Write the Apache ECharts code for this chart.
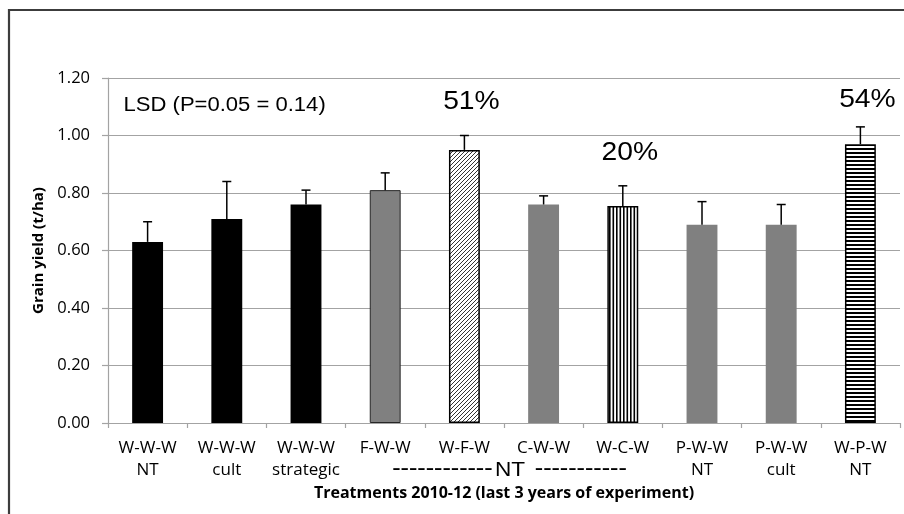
<!DOCTYPE html>
<html>
<head>
<meta charset="utf-8">
<title>Grain yield by treatment</title>
<script src="https://cdn.jsdelivr.net/npm/echarts@6/dist/echarts.min.js"></script>
<style>
  html, body { margin: 0; padding: 0; background: #ffffff; }
  #chart { width: 904px; height: 514px; }
</style>
</head>
<body>
<div id="chart"></div>
<script>
// ---- data ----
const categories = ['W-W-W\nNT', 'W-W-W\ncult', 'W-W-W\nstrategic', 'F-W-W', 'W-F-W',
                    'C-W-W', 'W-C-W', 'P-W-W\nNT', 'P-W-W\ncult', 'W-P-W\nNT'];
const yieldMean = [0.63, 0.71, 0.76, 0.81, 0.95, 0.76, 0.755, 0.69, 0.69, 0.97];
const yieldErr  = [0.07, 0.13, 0.05, 0.06, 0.05, 0.03, 0.07, 0.08, 0.07, 0.06];
const yTicks = [0, 0.2, 0.4, 0.6, 0.8, 1.0, 1.2];
const gainText = ['51%', '20%', '54%'];
const gainIndex = [4, 6, 9];
const lsdText = 'LSD (P=0.05 = 0.14)';
const groupText = 'NT';
const xTitle = 'Treatments 2010-12 (last 3 years of experiment)';
const yTitle = 'Grain yield (t/ha)';

// ---- fill patterns ----
function tile(w, h, draw) {
  const c = document.createElement('canvas');
  c.width = w; c.height = h;
  const g = c.getContext('2d');
  g.fillStyle = '#ffffff';
  g.fillRect(0, 0, w, h);
  draw(g, w, h);
  return { image: c, repeat: 'repeat' };
}
const diagonal = tile(4, 4, (g) => {
  g.strokeStyle = '#333333';
  g.lineWidth = 1;
  g.beginPath();
  g.moveTo(-1, 5); g.lineTo(5, -1);
  g.moveTo(-1, 1); g.lineTo(1, -1);
  g.moveTo(3, 5); g.lineTo(5, 3);
  g.stroke();
});
const vertical = tile(7, 4, (g) => {
  g.fillStyle = '#000000';
  g.fillRect(0, 0, 1.6, 4);
  g.fillRect(3.5, 0, 1.6, 4);
});
const horizontal = tile(4, 4, (g) => {
  g.fillStyle = '#000000';
  g.fillRect(0, 0, 4, 2);
});

const black = { color: '#000000' };
const grey = { color: '#808080' };
const greyEdged = { color: '#808080', borderColor: '#262626', borderWidth: 1 };
const outlined = (fill) => ({ color: fill, borderColor: '#000000', borderWidth: 1.5 });
const barStyles = [black, black, black, greyEdged, outlined(diagonal),
                   grey, outlined(vertical), grey, grey, outlined(horizontal)];

const gridColor = '#a3a3a3';
const labelFont = '"Open Sans", "Liberation Sans", sans-serif';
const textFont = '"Liberation Sans", Arial, sans-serif';

const chart = echarts.init(document.getElementById('chart'), null, { renderer: 'canvas' });

chart.setOption({
  animation: false,
  backgroundColor: '#ffffff',
  grid: { left: 108, right: 4, top: 78, bottom: 91, containLabel: false },
  xAxis: {
    type: 'category',
    data: categories,
    name: xTitle,
    nameLocation: 'middle',
    nameGap: 55,
    nameTextStyle: { fontFamily: labelFont, fontWeight: 'bold', fontSize: 16, color: '#000' },
    axisLine: { lineStyle: { color: gridColor, width: 1.2 } },
    axisTick: { show: true, length: 5, lineStyle: { color: gridColor, width: 1.2 } },
    axisLabel: { fontFamily: labelFont, fontSize: 17, color: '#000', lineHeight: 22, margin: 14, interval: 0 },
    splitLine: { show: false }
  },
  yAxis: {
    type: 'value',
    min: yTicks[0],
    max: yTicks[yTicks.length - 1],
    interval: yTicks[1] - yTicks[0],
    name: yTitle,
    nameLocation: 'middle',
    nameGap: 60,
    nameRotate: 90,
    nameTextStyle: { fontFamily: labelFont, fontWeight: 'bold', fontSize: 15, color: '#000' },
    axisLine: { show: true, lineStyle: { color: gridColor, width: 1.2 } },
    axisTick: { show: true, length: 6, lineStyle: { color: gridColor, width: 1.2 } },
    axisLabel: { fontFamily: labelFont, fontSize: 16.5, color: '#000', margin: 18,
                 formatter: (v) => v.toFixed(2) },
    splitLine: { show: true, lineStyle: { color: gridColor, width: 1.2 } }
  },
  series: [
    {
      type: 'bar',
      barWidth: '39%',
      data: yieldMean.map((v, i) => ({ value: v, itemStyle: barStyles[i] })),
      z: 2
    },
    {
      // error bars: stem from the bar top plus a short cap
      type: 'custom',
      z: 3,
      data: yieldMean.map((v, i) => [i, v, v + yieldErr[i]]),
      renderItem: (params, api) => {
        const base = api.coord([api.value(0), api.value(1)]);
        const top = api.coord([api.value(0), api.value(2)]);
        const half = 4.5;
        const st = { stroke: '#000000', lineWidth: 1.5 };
        return {
          type: 'group',
          children: [
            { type: 'line', shape: { x1: base[0], y1: base[1], x2: top[0], y2: top[1] }, style: st },
            { type: 'line', shape: { x1: top[0] - half, y1: top[1], x2: top[0] + half, y2: top[1] }, style: st }
          ]
        };
      }
    }
  ]
});

// ---- annotations placed from the axes ----
function px(cat, val) { return chart.convertToPixel({ xAxisIndex: 0, yAxisIndex: 0 }, [cat, val]); }
const gainLevel = [1.116, 0.94, 1.123];
const stretch = 1.13;
const graphics = [];

// outer frame
graphics.push({
  type: 'rect', silent: true, z: 0,
  shape: { x: 9, y: 10, width: 1200, height: 1200 },
  style: { fill: null, stroke: '#3c3c3c', lineWidth: 2.2 }
});

// LSD note in the top-left of the plot
const lsdPos = px(0, 1.103);
graphics.push({
  type: 'text', x: lsdPos[0] - 24, y: lsdPos[1], scaleX: stretch, z: 10,
  style: { text: lsdText, fontFamily: textFont, fontSize: 19.5, fill: '#000',
           align: 'left', verticalAlign: 'middle' }
});

gainText.forEach((t, k) => {
  const p = px(gainIndex[k], gainLevel[k]);
  graphics.push({
    type: 'text', x: p[0] + 7, y: p[1], scaleX: stretch, z: 10,
    style: { text: t, fontFamily: textFont, fontSize: 25, fill: '#000',
             align: 'center', verticalAlign: 'middle' }
  });
});

// group marker under the no-till rotations (F-W-W to W-C-W)
const gA = px(3, 0), gB = px(6, 0);
const rowY = gA[1] + 46;
graphics.push({
  type: 'text', x: gA[0] + 7, y: rowY, z: 10,
  style: { text: '------------', fontFamily: labelFont, fontSize: 26, fill: '#000',
           align: 'left', verticalAlign: 'middle' }
});
graphics.push({
  type: 'text', x: (gA[0] + gB[0]) / 2 + 6, y: rowY + 1, scaleX: stretch, z: 10,
  style: { text: groupText, fontFamily: textFont, fontSize: 20, fill: '#000',
           align: 'center', verticalAlign: 'middle' }
});
graphics.push({
  type: 'text', x: gB[0] + 4, y: rowY, z: 10,
  style: { text: '-----------', fontFamily: labelFont, fontSize: 26, fill: '#000',
           align: 'right', verticalAlign: 'middle' }
});

chart.setOption({ graphic: graphics });
</script>
</body>
</html>
